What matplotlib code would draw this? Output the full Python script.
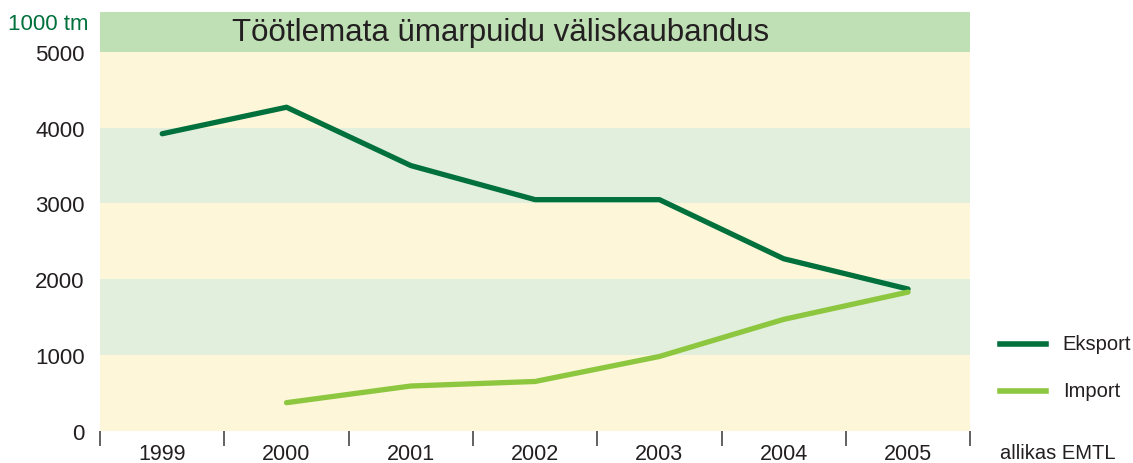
import numpy as np
import matplotlib.pyplot as plt

plt.rcParams['font.family'] = ['Liberation Sans', 'DejaVu Sans']

years = ['1999', '2000', '2001', '2002', '2003', '2004', '2005']
eksport = [3920, 4270, 3500, 3050, 3050, 2270, 1870]
import_years = ['2000', '2001', '2002', '2003', '2004', '2005']
imp = [370, 590, 650, 980, 1470, 1830]

dark = '#00703c'
light = '#8dc63f'
txt = '#231f20'

fig = plt.figure(figsize=(11.33, 4.64), dpi=100)
ax = fig.add_axes([0.0883, 0.0696, 0.768, 0.902])

# background bands
band_cols = ['#fdf6d8', '#e3efdd']
for i in range(5):
    ax.axhspan(i * 1000, (i + 1) * 1000, color=band_cols[i % 2], lw=0, zorder=0)
ax.axhspan(5000, 5525, color='#bfdfb5', lw=0, zorder=0)

x = np.arange(len(years)) + 0.5
xi = np.array([years.index(y) for y in import_years]) + 0.5
ax.plot(x, eksport, color=dark, lw=3.8, solid_capstyle='round', zorder=3)
ax.plot(xi, imp, color=light, lw=3.8, solid_capstyle='round', zorder=3)

ax.set_xlim(0, len(years))
ax.set_ylim(0, 5525)
for s in ax.spines.values():
    s.set_visible(False)

ax.set_xticks(np.arange(len(years) + 1))
ax.set_xticklabels([])
ax.set_xticks(x, minor=True)
ax.set_xticklabels(years, minor=True, fontsize=15.5, color=txt)
ax.tick_params(axis='x', which='major', length=11, width=1.3, color='#555555', direction='out')
ax.tick_params(axis='x', which='minor', length=0, pad=8.5)

ax.set_yticks([0, 1000, 2000, 3000, 4000, 5000])
ax.set_yticklabels(['0', '1000', '2000', '3000', '4000', '5000'], fontsize=16, color=txt)
ax.tick_params(axis='y', length=0, pad=11)

ax.text(0.152, 5262, 'Töötlemata ümarpuidu väliskaubandus', transform=ax.get_yaxis_transform(),
        fontsize=22.5, color=txt, va='center', ha='left')

fig.text(0.0777, 0.948, '1000 tm', fontsize=16, color=dark, ha='right', va='center')
fig.text(0.883, 0.022, 'allikas EMTL', fontsize=14.5, color=txt, ha='left', va='center')

# legend
fig.add_artist(plt.Line2D([0.883, 0.923], [1 - 345 / 464] * 2, color=dark, lw=4, transform=fig.transFigure))
fig.add_artist(plt.Line2D([0.883, 0.923], [1 - 392 / 464] * 2, color=light, lw=4, transform=fig.transFigure))
fig.text(0.938, 1 - 345 / 464, 'Eksport', fontsize=14.5, color=txt, va='center')
fig.text(0.938, 1 - 392 / 464, 'Import', fontsize=14.5, color=txt, va='center')

fig.savefig('out.png', dpi=100)
